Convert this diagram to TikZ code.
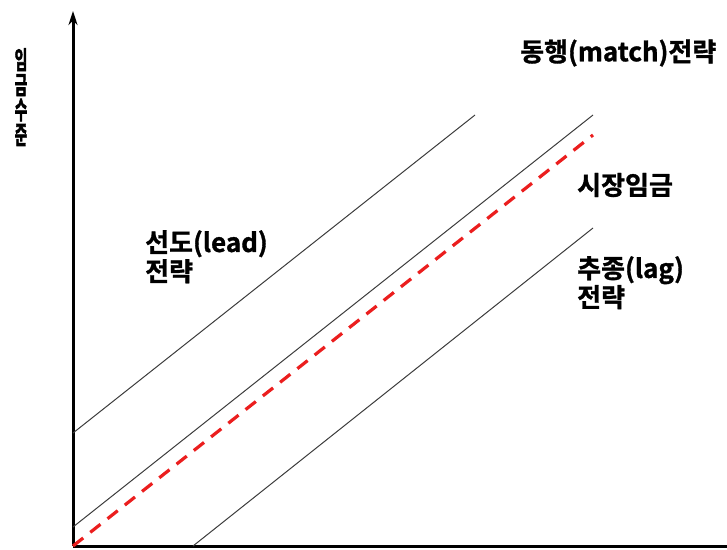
\documentclass[tikz,border=0pt]{standalone}
\usepackage{fontspec}
\usepackage{graphicx}
\setmainfont{Noto Sans CJK KR}[BoldFont={* Bold}]
\newfontfamily\kr{Noto Sans CJK KR}[BoldFont={Noto Sans CJK KR Bold},BoldFeatures={FakeBold=1.2}]
\newfontfamily\krv{Noto Sans CJK KR}[BoldFont={Noto Sans CJK KR Bold},BoldFeatures={FakeBold=3}]
\usetikzlibrary{arrows.meta}
\definecolor{mktred}{RGB}{235,30,30}
\definecolor{lgray}{RGB}{60,60,60}
\newcommand{\nar}[1]{\scalebox{0.55}[1]{#1}}
\begin{document}
\begin{tikzpicture}[x=1pt,y=-1pt,
  axis/.style={line width=3pt,black},
  thinline/.style={line width=1pt,lgray},
  mkt/.style={line width=3.2pt,mktred,dash pattern=on 13pt off 9pt},
  lbl/.style={font=\kr\bfseries\fontsize{26}{29}\selectfont,inner sep=0pt,align=left},
  vlbl/.style={font=\krv\bfseries\fontsize{25}{25}\selectfont,inner sep=0pt,align=center}]
\useasboundingbox (0,0) rectangle (727,549);
\coordinate (O) at (73,546);
\coordinate (ytop) at (73,11);
\coordinate (xend) at (727,546);
\draw[axis,-{Stealth[length=14pt,width=9pt]}] (O) -- (ytop);
\draw[axis] (O) -- (xend);
% lines
\coordinate (l1) at (73,433);  \coordinate (l2) at (475,115);
\coordinate (m1) at (73,527);  \coordinate (m2) at (593,115);
\coordinate (r1) at (73,546);  \coordinate (r2) at (593,135);
\coordinate (g1) at (193,546); \coordinate (g2) at (593,228);
\draw[thinline] (l1) -- (l2);
\draw[thinline] (m1) -- (m2);
\draw[thinline] (g1) -- (g2);
\draw[mkt] (r1) -- (r2);
% labels
\node[vlbl,anchor=center] (ylab) at (21,97) {\nar{임}\\\nar{금}\\\nar{수}\\\nar{준}};
\node[lbl,anchor=west] (match) at (520,53) {동행(match)전략};
\node[lbl,anchor=west] (market) at (577,185) {시장임금};
\node[lbl,anchor=north west] (lag) at (577,256) {추종(lag)\\전략};
\node[lbl,anchor=north west] (lead) at (145,230) {선도(lead)\\전략};
\end{tikzpicture}
\end{document}
